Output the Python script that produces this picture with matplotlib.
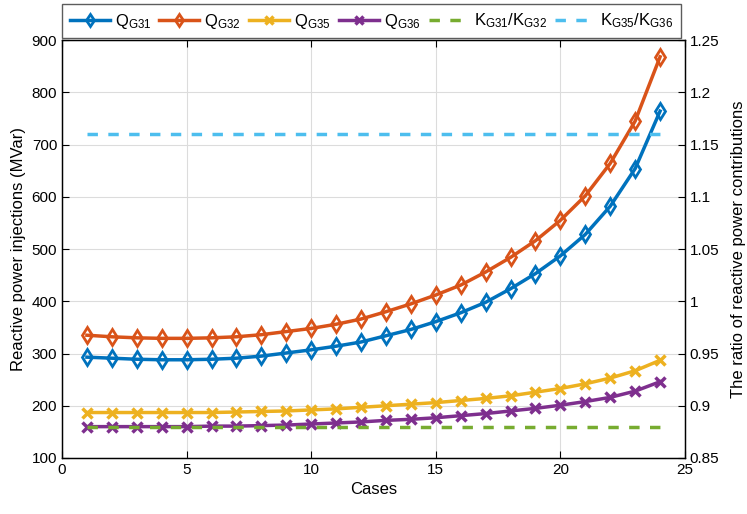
import matplotlib.pyplot as plt
from matplotlib.ticker import FuncFormatter

plt.rcParams['font.family'] = ['Liberation Sans', 'DejaVu Sans']
plt.rcParams['mathtext.default'] = 'regular'

cases = list(range(1, 25))
q_g31 = [293, 291, 289, 288, 288, 289, 291, 295, 301, 307, 314, 322,
         334, 346, 361, 378, 398, 424, 453, 487, 528, 582, 654, 764]
q_g32 = [335, 332, 330, 329, 329, 330, 332, 336, 342, 348, 356, 366,
         380, 395, 412, 431, 456, 484, 516, 555, 602, 664, 745, 868]
q_g35 = [187, 187, 187, 187, 187, 187, 188, 189, 190, 192, 194, 197,
         200, 203, 206, 210, 214, 219, 226, 233, 242, 253, 267, 287]
q_g36 = [160, 160, 160, 160, 160, 161, 161, 162, 163, 165, 167, 169,
         172, 174, 177, 181, 185, 190, 195, 201, 208, 216, 228, 246]
k_31_32 = [0.88] * 24
k_35_36 = [1.16] * 24

BLUE = '#0072BD'
ORANGE = '#D95319'
YELLOW = '#EDB120'
PURPLE = '#7E2F8E'
GREEN = '#77AC30'
CYAN = '#4DBEEE'

fig = plt.figure(figsize=(7.47, 5.14), dpi=100)
ax_pos = [0.083, 0.109, 0.834, 0.813]
ax = fig.add_axes(ax_pos)
ax2 = ax.twinx()

h1, = ax.plot(cases, q_g31, color=BLUE, lw=2.5, marker='d', ms=8.5, mfc='none', mew=2, label=r'Q$_{G31}$')
h2, = ax.plot(cases, q_g32, color=ORANGE, lw=2.5, marker='d', ms=8.5, mfc='none', mew=2, label=r'Q$_{G32}$')
h3, = ax.plot(cases, q_g35, color=YELLOW, lw=2.5, marker='x', ms=7, mew=2.5, label=r'Q$_{G35}$')
h4, = ax.plot(cases, q_g36, color=PURPLE, lw=2.5, marker='x', ms=7, mew=2.5, label=r'Q$_{G36}$')
h5, = ax2.plot(cases, k_31_32, color=GREEN, lw=2.5, ls=(0, (3, 3)), label=r'K$_{G31}$/K$_{G32}$')
h6, = ax2.plot(cases, k_35_36, color=CYAN, lw=2.5, ls=(0, (3, 3)), label=r'K$_{G35}$/K$_{G36}$')

ax.set_xlim(0, 25)
ax.set_ylim(100, 900)
ax2.set_ylim(0.85, 1.25)
ax.set_xticks([0, 5, 10, 15, 20, 25])
ax2.set_yticks([0.85, 0.9, 0.95, 1.0, 1.05, 1.1, 1.15, 1.2, 1.25])
ax2.yaxis.set_major_formatter(FuncFormatter(lambda v, p: f'{v:g}'))

ax.grid(True, color='#dcdcdc', lw=0.8)
ax.set_axisbelow(True)
for a in (ax, ax2):
    a.tick_params(direction='in', labelsize=11, length=5, width=0.8)
    for s in a.spines.values():
        s.set_linewidth(0.9)
ax.tick_params(top=True)

ax.set_xlabel('Cases', fontsize=12)
ax.set_ylabel('Reactive power injections (MVar)', fontsize=12)
ax2.set_ylabel('The ratio of reactive power contributions', fontsize=12, labelpad=8)

fig.legend(handles=[h1, h2, h3, h4, h5, h6], ncol=6, loc='lower left',
           bbox_to_anchor=(ax_pos[0], ax_pos[1] + ax_pos[3] + 0.004),
           fontsize=12, frameon=True, fancybox=False, markerscale=0.75,
           edgecolor='#333333', handlelength=2.4, columnspacing=0.5, handletextpad=0.3,
           borderpad=0.45, borderaxespad=0)

fig.savefig('out.png', dpi=100)
